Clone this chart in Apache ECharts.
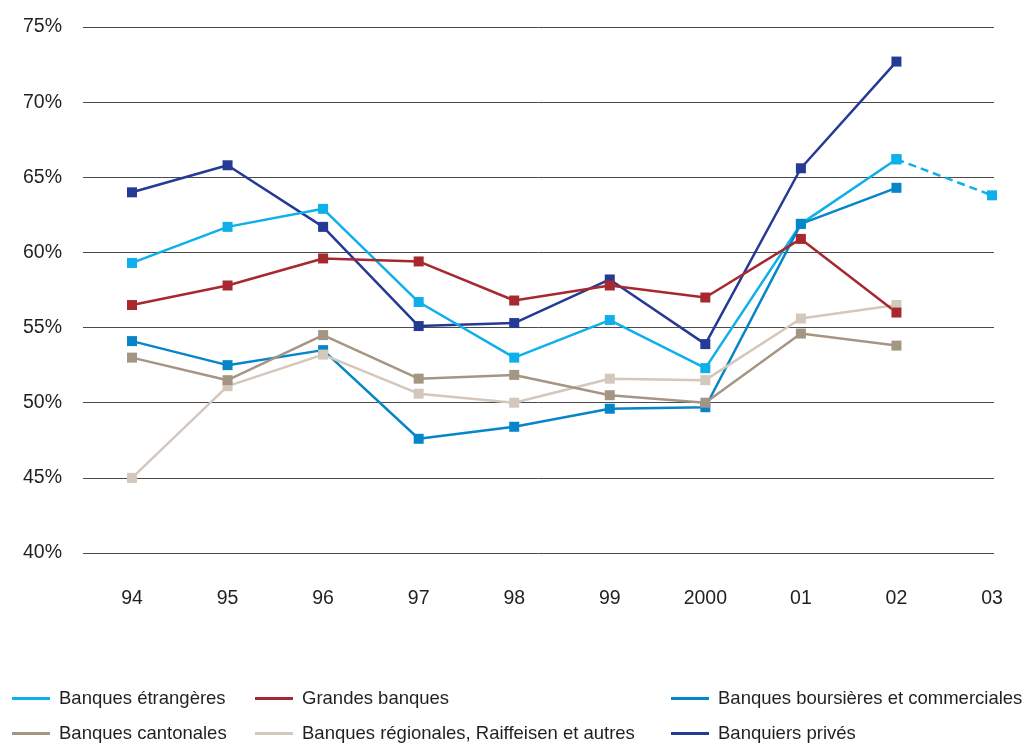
<!DOCTYPE html>
<html>
<head>
<meta charset="utf-8">
<script src="https://cdn.jsdelivr.net/npm/echarts@6/dist/echarts.min.js"></script>
<style>
  html, body { margin: 0; padding: 0; background: #ffffff; }
  #chart { width: 1031px; height: 744px; }
</style>
</head>
<body>
<div id="chart"></div>
<script>
// Year labels along the bottom axis
const years = ['94', '95', '96', '97', '98', '99', '2000', '01', '02', '03'];

// Shares in percent, one array per banking group
const etrangeres = [59.3, 61.7, 62.9, 56.7, 53.0, 55.5, 52.3, 61.9, 66.2, null];
const etrangeresProjection = [null, null, null, null, null, null, null, null, 66.2, 63.8];
const grandes = [56.5, 57.8, 59.6, 59.4, 56.8, 57.8, 57.0, 60.9, 56.0, null];
const boursieres = [54.1, 52.5, 53.5, 47.6, 48.4, 49.6, 49.7, 61.9, 64.3, null];
const cantonales = [53.0, 51.5, 54.5, 51.6, 51.85, 50.5, 50.0, 54.6, 53.8, null];
const regionales = [45.0, 51.1, 53.2, 50.6, 50.0, 51.6, 51.5, 55.6, 56.5, null];
const prives = [64.0, 65.8, 61.7, 55.1, 55.3, 58.2, 53.9, 65.6, 72.7, null];

// Vertical scale
const yMin = 40, yMax = 75, yStep = 5;

const FONT = 'Liberation Sans';
const TEXT = '#231f20';

const C = {
  etrangeres: '#0db0ea',
  grandes: '#a8282f',
  boursieres: '#0686c9',
  cantonales: '#a59684',
  regionales: '#d4c7bb',
  prives: '#243a95'
};

function line(name, data, color, extra) {
  return Object.assign({
    name: name,
    type: 'line',
    xAxisIndex: 1,
    yAxisIndex: 1,
    data: data,
    symbol: 'rect',
    symbolSize: 10,
    showAllSymbol: true,
    connectNulls: false,
    animation: false,
    color: color,
    lineStyle: { color: color, width: 2.5 },
    itemStyle: { color: color }
  }, extra || {});
}

function legendItem(name, color, left, top) {
  return {
    left: left,
    top: top,
    padding: 0,
    data: [name],
    icon: 'rect',
    itemWidth: 38,
    itemHeight: 3,
    itemStyle: { color: color },
    selectedMode: false,
    textStyle: { fontFamily: FONT, fontSize: 18.5, color: TEXT, padding: [0, 0, 0, 4] }
  };
}

const chart = echarts.init(document.getElementById('chart'), null, { renderer: 'canvas' });

chart.setOption({
  backgroundColor: '#ffffff',
  animation: false,
  textStyle: { fontFamily: FONT },
  grid: [
    // grid holding the horizontal rules and percent labels
    { left: 83, right: 37, top: 27, bottom: 191 },
    // grid holding the lines, first year inset from the left edge
    { left: 132, right: 39, top: 27, bottom: 191 }
  ],
  xAxis: [
    { gridIndex: 0, type: 'value', min: 0, max: 1, show: false },
    {
      gridIndex: 1,
      type: 'category',
      data: years,
      boundaryGap: false,
      axisLine: { show: false },
      axisTick: { show: false },
      splitLine: { show: false },
      axisLabel: { margin: 36, fontFamily: FONT, fontSize: 19.5, color: TEXT }
    }
  ],
  yAxis: [
    {
      gridIndex: 0,
      type: 'value',
      min: yMin,
      max: yMax,
      interval: yStep,
      axisLine: { show: false },
      axisTick: { show: false },
      axisLabel: { margin: 21, formatter: '{value}%', fontFamily: FONT, fontSize: 19.5, color: TEXT },
      splitLine: { show: true, lineStyle: { color: '#4a4a4a', width: 1 } }
    },
    {
      gridIndex: 1,
      type: 'value',
      min: yMin,
      max: yMax,
      interval: yStep,
      show: false,
      splitLine: { show: false }
    }
  ],
  legend: [
    legendItem('Banques étrangères', C.etrangeres, 12, 689),
    legendItem('Banques cantonales', C.cantonales, 12, 724),
    legendItem('Grandes banques', C.grandes, 255, 689),
    legendItem('Banques régionales, Raiffeisen et autres', C.regionales, 255, 724),
    legendItem('Banques boursières et commerciales', C.boursieres, 671, 689),
    legendItem('Banquiers privés', C.prives, 671, 724)
  ],
  series: [
    line('Banquiers privés', prives, C.prives),
    line('Banques étrangères', etrangeres, C.etrangeres),
    line('Banques étrangères 2003', etrangeresProjection, C.etrangeres, {
      lineStyle: { color: C.etrangeres, width: 2.5, type: [8, 5] }
    }),
    line('Banques boursières et commerciales', boursieres, C.boursieres),
    line('Banques régionales, Raiffeisen et autres', regionales, C.regionales),
    line('Banques cantonales', cantonales, C.cantonales),
    line('Grandes banques', grandes, C.grandes)
  ]
});
</script>
</body>
</html>
